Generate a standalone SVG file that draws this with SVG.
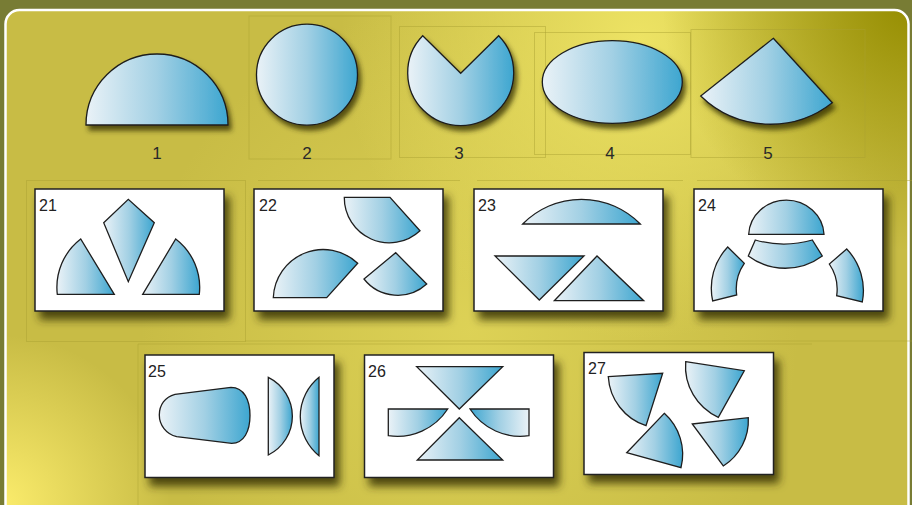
<svg xmlns="http://www.w3.org/2000/svg" width="912" height="505" viewBox="0 0 912 505">
<defs>
  <linearGradient id="g" x1="0" y1="0" x2="1" y2="0">
    <stop offset="0" stop-color="#eaf2f7"/>
    <stop offset="0.5" stop-color="#a2d0e4"/>
    <stop offset="1" stop-color="#3da6d0"/>
  </linearGradient>
  <linearGradient id="gr" x1="1" y1="0" x2="0" y2="0">
    <stop offset="0" stop-color="#eaf2f7"/>
    <stop offset="0.5" stop-color="#a2d0e4"/>
    <stop offset="1" stop-color="#3da6d0"/>
  </linearGradient>
  <radialGradient id="hl1" cx="640" cy="40" r="300" gradientUnits="userSpaceOnUse">
    <stop offset="0" stop-color="#ede364"/>
    <stop offset="1" stop-color="#ede364" stop-opacity="0"/>
  </radialGradient>
  <radialGradient id="hl2" cx="912" cy="0" r="250" gradientUnits="userSpaceOnUse">
    <stop offset="0" stop-color="#958d00"/>
    <stop offset="1" stop-color="#958d00" stop-opacity="0"/>
  </radialGradient>
  <radialGradient id="hl3" cx="0" cy="505" r="170" gradientUnits="userSpaceOnUse">
    <stop offset="0" stop-color="#fbec6c"/>
    <stop offset="1" stop-color="#fbec6c" stop-opacity="0"/>
  </radialGradient>
  <radialGradient id="hl4" cx="470" cy="330" r="330" gradientUnits="userSpaceOnUse">
    <stop offset="0" stop-color="#e2d75a" stop-opacity="0.8"/>
    <stop offset="1" stop-color="#e2d75a" stop-opacity="0"/>
  </radialGradient>
  <filter id="sh" x="-20%" y="-20%" width="150%" height="160%">
    <feGaussianBlur in="SourceAlpha" stdDeviation="2.8"/>
    <feOffset dx="3" dy="5" result="b"/>
    <feFlood flood-color="#2e2a00" flood-opacity="0.75"/>
    <feComposite in2="b" operator="in"/>
    <feMerge><feMergeNode/><feMergeNode in="SourceGraphic"/></feMerge>
  </filter>
  <filter id="psh" x="-10%" y="-10%" width="125%" height="135%">
    <feGaussianBlur in="SourceAlpha" stdDeviation="4"/>
    <feOffset dx="5" dy="8" result="b"/>
    <feFlood flood-color="#2e2a00" flood-opacity="0.8"/>
    <feComposite in2="b" operator="in"/>
    <feMerge><feMergeNode/><feMergeNode in="SourceGraphic"/></feMerge>
  </filter>
</defs>
<style>
  .s { fill: url(#g); stroke: #1e1e1e; stroke-width: 1.3; stroke-linejoin: miter; }
  .sr { fill: url(#gr); }
  .p { fill: #ffffff; stroke: #222222; stroke-width: 1.5; }
  .n { font-family: "Liberation Sans", Arial, sans-serif; font-size: 17px; fill: #2a2a2a; text-anchor: middle; }
  .pl { font-family: "Liberation Sans", Arial, sans-serif; font-size: 16px; fill: #222222; }
  .f { fill: none; stroke: #a8a030; stroke-opacity: 0.45; stroke-width: 1; }
</style>
<rect x="0" y="0" width="912" height="505" fill="#787c34"/>
<g id="background">
  <rect x="5.5" y="10" width="903" height="520" rx="14" fill="#c8bc45"/>
  <rect x="5.5" y="10" width="903" height="520" rx="14" fill="url(#hl4)"/>
  <rect x="5.5" y="10" width="903" height="520" rx="14" fill="url(#hl1)"/>
  <rect x="5.5" y="10" width="903" height="520" rx="14" fill="url(#hl2)"/>
  <rect x="5.5" y="10" width="903" height="520" rx="14" fill="url(#hl3)"/>
  <rect x="5.5" y="10" width="903" height="520" rx="14" fill="none" stroke="#ffffff" stroke-width="2.5"/>
  <rect class="f" x="249" y="16" width="142" height="143"/>
  <rect class="f" x="399.5" y="26.5" width="146" height="131"/>
  <rect class="f" x="534.5" y="32.5" width="156" height="122"/>
  <rect class="f" x="691" y="29.5" width="174" height="128"/>
  <rect class="f" x="26.5" y="180.5" width="219" height="161"/>
  <line class="f" x1="258" y1="180.5" x2="460" y2="180.5"/>
  <line class="f" x1="477" y1="180.5" x2="683" y2="180.5"/>
  <line class="f" x1="697" y1="180.5" x2="912" y2="180.5"/>
  <line class="f" x1="245" y1="341" x2="912" y2="341"/>
  <line class="f" x1="138" y1="344" x2="138" y2="505"/>
  <line class="f" x1="138" y1="344" x2="812" y2="344"/>
</g>

<g id="shape1" filter="url(#sh)"><path class="s" d="M86,125 A71,71 0 0 1 228,125 Z"/></g>
<g id="shape2" filter="url(#sh)"><circle class="s" cx="307" cy="74.7" r="50.5"/></g>
<g id="shape3" filter="url(#sh)"><path class="s" d="M422.7,35.7 L460.7,73.3 L498.7,35.7 A53,53 0 1 1 422.7,35.7 Z"/></g>
<g id="shape4" filter="url(#sh)"><ellipse class="s" cx="612.3" cy="82" rx="70" ry="41.3"/></g>
<g id="shape5" filter="url(#sh)"><path class="s" d="M773.3,38.3 L832.3,102.7 A100,100 0 0 1 700.7,96 Z"/></g>

<g id="labels">
  <text class="n" x="157" y="159">1</text>
  <text class="n" x="307" y="159">2</text>
  <text class="n" x="459" y="159">3</text>
  <text class="n" x="610" y="159">4</text>
  <text class="n" x="768" y="159">5</text>
</g>

<g id="panel21">
  <rect class="p" x="35" y="189" width="189" height="122" filter="url(#psh)"/>
  <text class="pl" x="39" y="211">21</text>
  <path class="s" d="M114.3,294.3 L80.7,239 A61,61 0 0 0 57.3,294.3 Z"/>
  <path class="s" d="M103.7,222.7 L128.3,199.3 L154.3,222.7 L128.3,281.7 Z"/>
  <path class="s" d="M142.7,294.3 L175.7,239 A61,61 0 0 1 199.3,294.3 Z"/>
</g>
<g id="panel22">
  <rect class="p" x="254" y="189" width="189" height="122" filter="url(#psh)"/>
  <text class="pl" x="259" y="211">22</text>
  <path class="s" d="M344.3,197.3 L390,197.3 L420,230.7 A45,45 0 0 1 344.3,197.3 Z"/>
  <path class="s" d="M273.3,297.7 L326.7,297.7 L357.7,263.3 A50,50 0 0 0 273.3,297.7 Z"/>
  <path class="s" d="M364,279 L395.7,252.7 L426.7,284 A43,43 0 0 1 364,279 Z"/>
</g>
<g id="panel23">
  <rect class="p" x="474" y="189" width="189" height="122" filter="url(#psh)"/>
  <text class="pl" x="478" y="211">23</text>
  <path class="s" d="M522.7,224 A82.3,82.3 0 0 1 640.3,224 Z"/>
  <path class="s" d="M495,256 L584,256 L539.3,300 Z"/>
  <path class="s" d="M554.3,300.7 L597,256 L643.7,300.7 Z"/>
</g>
<g id="panel24">
  <rect class="p" x="694" y="189" width="189" height="122" filter="url(#psh)"/>
  <text class="pl" x="698" y="211">24</text>
  <path class="s" d="M748.7,234.3 A37.7,36 0 0 1 824,234.3 Z"/>
  <path class="s" d="M755.3,240 A103,103 0 0 0 812.3,240 L822.3,256 A62,62 0 0 1 748.3,256 Z"/>
  <path class="s" d="M727.7,247 L744.3,263.3 A45,45 0 0 0 736.7,295 L712.7,301 A60,60 0 0 1 727.7,247 Z"/>
  <path class="s" d="M846.7,249 L829.3,264 A45,45 0 0 1 836.7,295.7 L862.3,302 A60,60 0 0 0 846.7,249 Z"/>
</g>
<g id="panel25">
  <rect class="p" x="145" y="355" width="189" height="122.5" filter="url(#psh)"/>
  <text class="pl" x="148" y="377">25</text>
  <path class="s" d="M175,394.3 L231,387.3 C244,387.3 250,400 250,415.5 C250,431 244,443.3 231.7,443.3 L176.7,436.7 C166,434 159.3,425 159.3,415 C159.3,405 165,397 175,394.3 Z"/>
  <path class="s" d="M268.3,377.3 A43.4,43.4 0 0 1 268.3,455 Z"/>
  <path class="s" d="M319,377.3 A50.4,50.4 0 0 0 319,455.7 Z"/>
</g>
<g id="panel26">
  <rect class="p" x="364.5" y="355" width="189" height="122.5" filter="url(#psh)"/>
  <text class="pl" x="368" y="377">26</text>
  <path class="s" d="M416.7,366.7 L502.7,366.7 L459.3,409 Z"/>
  <path class="s" d="M459.3,417.7 L502.7,460 L417.3,460 Z"/>
  <path class="s" d="M388.3,409 L447.7,409 A60,60 0 0 1 388.3,435.7 Z"/>
  <path class="s sr" d="M529,409 L470,409 A60,60 0 0 0 529,435.7 Z"/>
</g>
<g id="panel27">
  <rect class="p" x="584" y="352.5" width="189.5" height="122" filter="url(#psh)"/>
  <text class="pl" x="588" y="374">27</text>
  <path class="s" d="M608.3,376.7 L662.7,373.3 L646,425.7 A55,55 0 0 1 608.3,376.7 Z"/>
  <path class="s" d="M685.7,361.7 L744.3,370.7 L718.3,417.3 A56,56 0 0 1 685.7,361.7 Z"/>
  <path class="s" d="M626.7,452.7 L664.3,413.3 A55,55 0 0 1 681,467.7 Z"/>
  <path class="s" d="M692.3,424 L748.3,417.7 A54,54 0 0 1 723.3,466 Z"/>
</g>
<g id="connectors"/>
</svg>
